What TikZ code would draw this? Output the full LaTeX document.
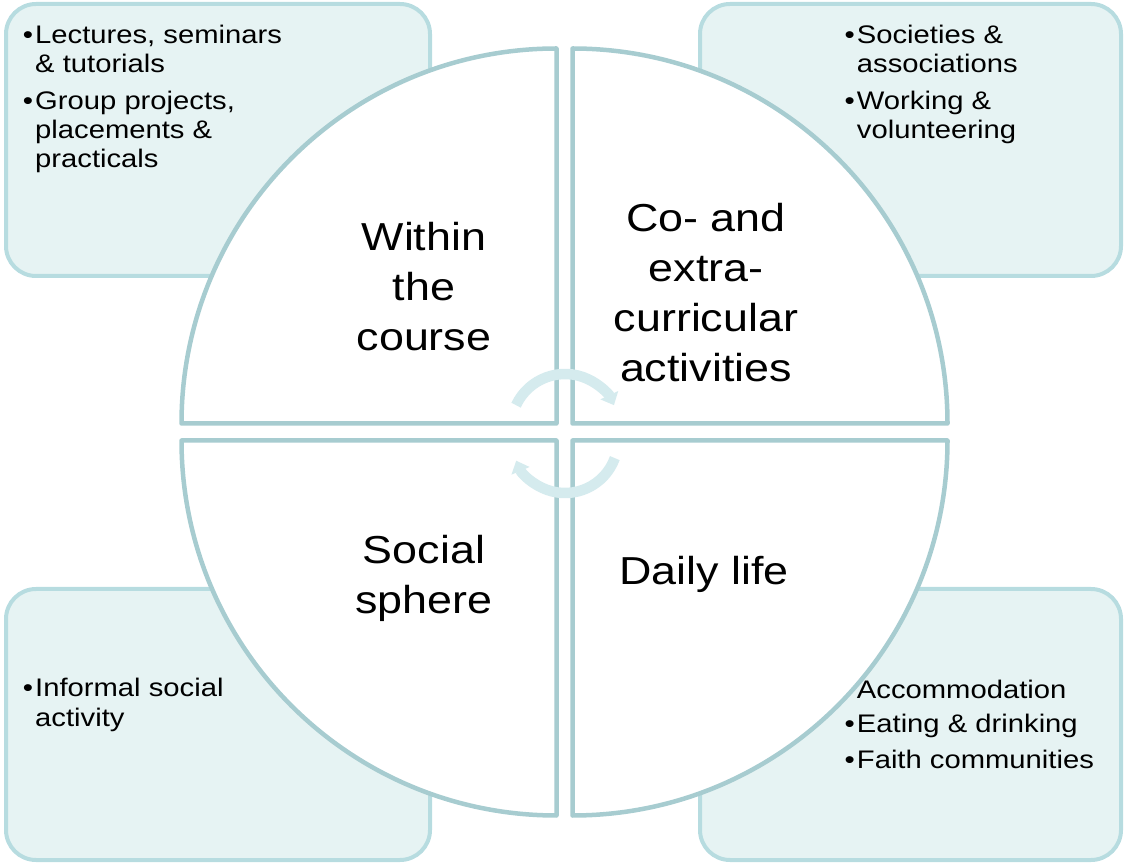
\documentclass[tikz,border=0pt]{standalone}
\usepackage{fontspec}
\setmainfont{Liberation Sans}[FakeStretch=1.15]
\usetikzlibrary{arrows.meta}
\definecolor{boxfill}{HTML}{E6F3F3}
\definecolor{boxline}{HTML}{B7DCE0}
\definecolor{quadline}{HTML}{A7CCD0}
\definecolor{arrowcol}{HTML}{D5EBEE}
\newcommand{\bul}{\phantom{•}}
\newcommand{\bulx}{\rlap{\kern-2pt•}\phantom{•}}
\begin{document}
\begin{tikzpicture}[x=1pt,y=1pt,
  infobox/.style={draw=boxline, fill=boxfill, line width=4pt, rounded corners=30pt},
  quad/.style={draw=quadline, fill=white, line width=4.5pt, line join=round},
  cyc/.style={draw=arrowcol, line width=10.5pt, -{Triangle[width=19pt,length=11pt]}},
  big/.style={font=\fontsize{39}{50}\selectfont, inner sep=0pt, anchor=base},
  small/.style={font=\fontsize{25.4}{29}\selectfont, inner sep=0pt, anchor=base west}]
\useasboundingbox (0,0) rectangle (1124,865);
% side boxes
\draw[infobox] (6,589) rectangle (430,861);
\draw[infobox] (700,589) rectangle (1121,861);
\draw[infobox] (6,5) rectangle (430,276);
\draw[infobox] (700,5) rectangle (1121,276);
% quadrants
\draw[quad] (556.5,441.5) -- (181.5,441.5) arc[start angle=180,end angle=90,radius=375] -- cycle;
\draw[quad] (572.5,441.5) -- (947.5,441.5) arc[start angle=0,end angle=90,radius=375] -- cycle;
\draw[quad] (556.5,424.5) -- (181.5,424.5) arc[start angle=180,end angle=270,radius=375] -- cycle;
\draw[quad] (572.5,424.5) -- (947.5,424.5) arc[start angle=0,end angle=-90,radius=375] -- cycle;
% central cycle arrows
\coordinate (tc) at (565,437);
\coordinate (bc) at (565,425);
\draw[cyc] ([shift={(155:54)}]tc) arc[start angle=155,end angle=25,radius=54];
\draw[cyc] ([shift={(-20:53)}]bc) arc[start angle=-20,end angle=-157,radius=53];
% quadrant titles
\node[big] (w1) at (424,614) {Within};
\node[big] (w2) at (424,564) {the};
\node[big] (w3) at (424,514) {course};
\node[big] (c1) at (706,633.5) {Co- and};
\node[big] (c2) at (706,583.5) {extra-};
\node[big] (c3) at (706,533.5) {curricular};
\node[big] (c4) at (706,483.5) {activities};
\node[big] (s1) at (424,301) {Social};
\node[big] (s2) at (424,251) {sphere};
\node[big] (d1) at (704,280) {Daily life};
% box texts
\node[small] (a1) at (24.8,821) {\bulx Lectures, seminars};
\node[small] (a2) at (24.8,792) {\bul\& tutorials};
\node[small] (a3) at (24.8,755) {\bulx Group projects,};
\node[small] (a4) at (24.8,726) {\bul placements \&};
\node[small] (a5) at (24.8,697) {\bul practicals};
\node[small] (b1) at (846.5,821) {\bulx Societies \&};
\node[small] (b2) at (846.5,792) {\bul associations};
\node[small] (b3) at (846.5,755) {\bulx Working \&};
\node[small] (b4) at (846.5,726) {\bul volunteering};
\node[small] (e1) at (24.8,168) {\bulx Informal social};
\node[small] (e2) at (24.8,139) {\bul activity};
\node[small] (f1) at (846.5,167) {\bul Accommodation};
\node[small] (f2) at (846.5,132) {\bulx Eating \& drinking};
\node[small] (f3) at (846.5,97) {\bulx Faith communities};
\end{tikzpicture}
\end{document}
